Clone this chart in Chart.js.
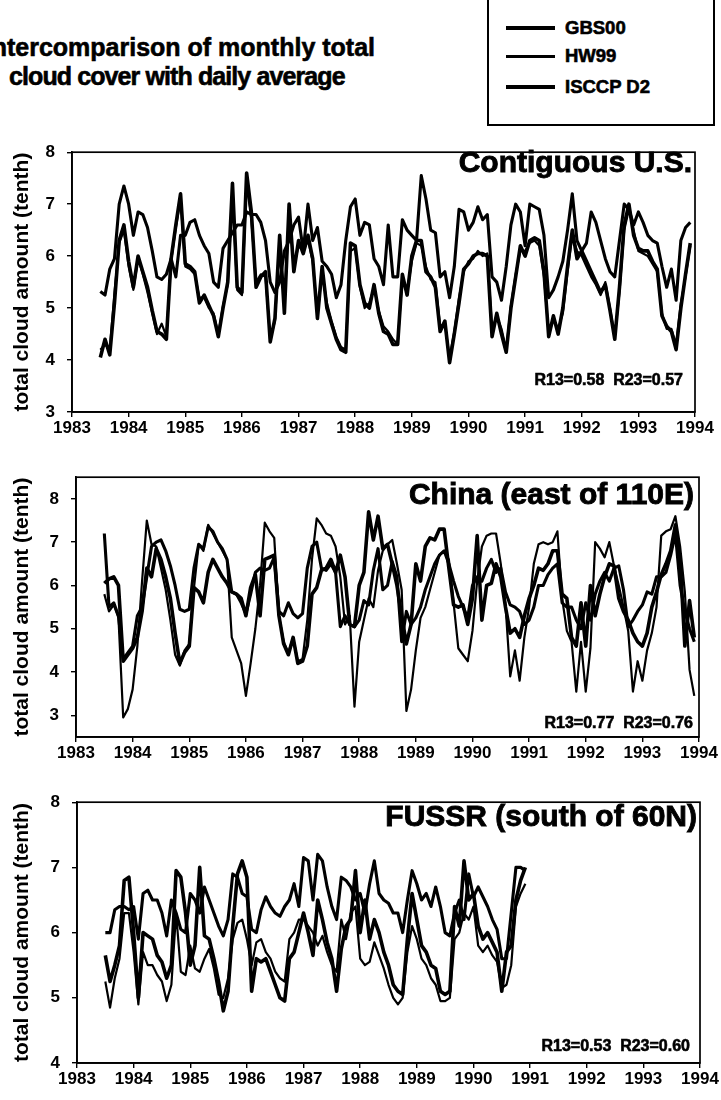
<!DOCTYPE html>
<html>
<head>
<meta charset="utf-8">
<script src="https://cdn.jsdelivr.net/npm/chart.js@4.4.1/dist/chart.umd.min.js"></script>
<style>
  html, body { margin:0; padding:0; background:#fff; }
  body { width:721px; height:1100px; position:relative; overflow:hidden; font-family:"Liberation Sans", Arial, sans-serif; color:#000; }
  .abs { position:absolute; white-space:pre; font-weight:bold; -webkit-text-stroke:0.6px #000; }
  canvas { position:absolute; left:0; }
  .ls { position:absolute; background:#000; left:506px; width:49px; }
</style>
</head>
<body>
<div class="abs" style="right:346px; top:32px; font-size:25px; line-height:30px;">Intercomparison of monthly total</div>
<div class="abs" style="left:9px; top:61px; font-size:25px; line-height:30px; letter-spacing:-0.9px;">cloud cover with daily average</div>

<div style="position:absolute; left:487px; top:-2px; width:228px; height:128px; border:2px solid #000; box-sizing:border-box;"></div>
<div class="ls" style="top:26px; height:4px;"></div>
<div class="ls" style="top:55px; height:2.5px;"></div>
<div class="ls" style="top:85px; height:3.5px;"></div>
<div class="abs" style="left:565px; top:17px; font-size:18.5px; line-height:22px;">GBS00</div>
<div class="abs" style="left:565px; top:45px; font-size:18.5px; line-height:22px;">HW99</div>
<div class="abs" style="left:565px; top:76px; font-size:18.5px; line-height:22px;">ISCCP D2</div>

<canvas id="c1" width="721" height="320" style="top:130px"></canvas>
<canvas id="c2" width="721" height="320" style="top:455px"></canvas>
<canvas id="c3" width="721" height="320" style="top:780px"></canvas>

<div class="abs" style="right:29px; top:147px; font-size:30px; line-height:30px; -webkit-text-stroke:0.9px #000;">Contiguous U.S.</div>
<div class="abs" style="right:27px; top:479px; font-size:30px; line-height:30px; -webkit-text-stroke:0.9px #000;">China (east of 110E)</div>
<div class="abs" style="right:24px; top:801px; font-size:30px; line-height:30px; -webkit-text-stroke:0.9px #000;">FUSSR (south of 60N)</div>

<div class="abs" style="right:38px; top:372px; font-size:16px; line-height:16px;">R13=0.58  R23=0.57</div>
<div class="abs" style="right:28px; top:715px; font-size:16px; line-height:16px;">R13=0.77  R23=0.76</div>
<div class="abs" style="right:31px; top:1038px; font-size:16px; line-height:16px;">R13=0.53  R23=0.60</div>

<script>
// ---------- tick labels ----------
const years = ['1983','1984','1985','1986','1987','1988','1989','1990','1991','1992','1993','1994'];
const yTicksUS = ['3','4','5','6','7','8'];
const yTicksChina = ['3','4','5','6','7','8'];
const yTicksFUSSR = ['4','5','6','7','8'];
const seriesNames = ['GBS00','HW99','ISCCP D2'];
const startYear = 1983.5; // first month: July 1983, monthly values

// ---------- Contiguous U.S. (Jul 1983 - Dec 1993) ----------
const usGBS00 = [4.05,4.4,4.1,5.1,6.3,6.6,
 5.9,5.4,6.0,5.7,5.4,4.95,4.55,4.5,4.4,5.95,6.6,7.2,
 5.85,5.8,5.7,5.1,5.25,5.05,4.85,4.45,5.0,5.5,7.4,5.4,
 5.3,7.6,6.85,5.4,5.6,5.7,4.35,4.8,6.4,4.9,7.0,5.7,
 6.3,6.05,6.4,5.95,4.8,5.8,5.0,4.7,4.4,4.2,4.15,6.25,
 6.2,5.45,5.1,5.0,5.45,4.9,4.55,4.5,4.3,4.3,5.65,5.25,
 6.0,6.3,6.3,5.7,5.6,5.4,4.55,4.75,3.95,4.5,5.1,5.75,
 5.85,6.0,6.05,6.05,6.0,4.45,4.9,4.5,4.15,5.0,5.6,6.2,
 6.0,6.3,6.35,6.3,5.7,4.45,4.85,4.5,5.0,5.8,6.5,5.95,
 6.1,5.9,5.7,5.5,5.3,5.45,4.95,4.4,5.4,6.6,7.0,6.4,
 6.15,6.1,6.1,5.9,5.75,4.85,4.65,4.55,4.2,5.0,5.65,6.25];
const usHW99 = [4.2,4.3,4.2,5.3,6.25,6.5,
 5.8,5.35,5.95,5.65,5.3,4.9,4.5,4.7,4.45,5.9,6.55,7.1,
 5.8,5.75,5.65,5.2,5.2,5.0,4.9,4.5,5.05,5.45,7.2,5.35,
 5.25,7.4,6.7,5.5,5.65,5.6,4.4,4.75,6.3,5.0,6.9,5.8,
 6.2,6.1,6.3,5.9,4.85,5.7,5.1,4.75,4.45,4.25,4.2,6.1,
 6.15,5.4,5.0,5.1,5.4,4.95,4.65,4.55,4.4,4.3,5.6,5.3,
 5.9,6.25,6.2,5.8,5.55,5.5,4.65,4.7,4.05,4.55,5.2,5.7,
 5.9,5.95,6.1,6.0,6.05,4.6,4.85,4.6,4.2,5.05,5.65,6.1,
 6.1,6.25,6.3,6.2,5.6,4.5,4.8,4.6,4.9,5.7,6.4,6.1,
 6.0,5.8,5.6,5.45,5.25,5.5,5.0,4.45,5.3,6.5,6.9,6.5,
 6.1,6.05,6.0,5.85,5.7,4.9,4.6,4.6,4.3,5.1,5.6,6.2];
const usISCCP = [5.32,5.25,5.75,5.95,7.0,7.35,
 7.0,6.4,6.85,6.8,6.55,6.1,5.6,5.55,5.65,5.95,5.6,6.4,
 6.4,6.65,6.7,6.4,6.2,6.05,5.5,5.4,6.15,6.3,6.45,6.6,
 6.6,6.85,6.8,6.8,6.65,6.3,5.5,5.3,5.5,6.1,6.3,6.6,
 6.75,6.1,7.0,6.3,6.55,5.9,5.8,5.65,5.2,5.45,6.3,6.95,
 7.1,6.4,6.65,6.6,5.95,5.8,5.45,6.6,5.6,5.6,6.7,6.5,
 6.4,6.3,7.55,7.1,6.5,6.45,5.6,5.7,5.2,5.8,6.9,6.85,
 6.5,6.65,6.95,6.7,6.8,5.6,5.5,5.15,5.8,6.6,7.0,6.85,
 6.2,7.0,6.95,6.9,6.4,5.2,5.35,5.6,5.9,6.5,7.2,6.3,
 6.1,6.25,6.85,6.65,6.3,5.95,5.7,5.6,6.3,7.0,6.9,6.6,
 6.85,6.65,6.4,6.3,6.25,5.8,5.4,5.75,5.15,6.3,6.55,6.65];

// ---------- China east of 110E (Jul 1983 - Dec 1993) ----------
const chinaGBS00 = [6.05,6.15,6.2,6.0,4.25,4.4,
 4.55,4.8,5.4,6.4,6.2,6.85,6.6,6.2,5.7,4.9,4.2,4.45,
 4.6,5.95,5.85,5.6,6.3,6.6,6.4,6.2,6.05,5.85,5.8,5.7,
 5.3,5.95,6.25,5.3,6.6,6.65,6.7,5.3,4.65,4.4,4.8,4.2,
 4.25,4.6,5.8,5.95,6.35,6.4,6.6,6.3,6.7,6.2,5.1,5.05,
 6.0,6.3,7.7,7.05,7.6,6.85,6.95,6.5,6.0,5.3,4.65,5.1,
 6.5,6.1,6.9,7.1,7.05,7.3,7.3,6.4,5.55,5.5,5.55,5.1,
 5.7,7.15,5.2,6.0,6.05,6.5,6.2,5.5,4.9,5.0,4.8,5.3,
 5.7,6.0,6.4,6.35,6.5,6.8,6.8,5.8,5.7,4.8,4.6,5.6,
 4.6,6.0,5.3,5.8,6.2,6.5,6.45,5.7,5.4,5.2,4.9,4.7,
 4.6,4.9,5.5,5.85,6.25,6.5,6.8,7.4,6.6,4.6,5.65,4.8];
const chinaHW99 = [5.8,5.4,5.55,5.25,2.95,3.15,
 3.6,4.6,6.1,7.5,6.95,6.9,6.4,5.9,5.2,4.4,4.15,4.5,
 4.65,5.95,6.95,6.8,7.4,7.2,7.0,6.8,6.6,4.8,4.5,4.2,
 3.45,4.2,5.0,6.0,7.45,7.25,7.1,5.3,4.7,4.45,4.8,4.25,
 4.3,5.2,6.6,7.55,7.4,7.2,7.15,6.9,6.2,5.1,5.3,3.2,
 4.7,5.2,5.7,5.5,6.35,6.8,6.95,7.05,6.5,5.9,3.1,3.6,
 4.5,5.25,5.5,5.9,6.3,6.7,6.8,6.6,5.6,4.55,4.4,4.25,
 4.95,6.1,6.9,7.15,7.2,7.2,6.5,5.55,3.9,4.5,3.8,4.8,
 5.5,6.5,6.95,7.0,6.95,7.0,7.25,5.7,4.95,4.7,3.55,4.7,
 3.55,4.55,7.0,6.85,6.65,7.0,6.45,6.0,5.5,4.95,3.55,4.25,
 3.8,4.5,4.9,5.5,7.15,7.25,7.3,7.6,6.9,5.85,4.05,3.45];
const chinaISCCP = [7.2,5.5,5.6,5.3,4.3,4.45,
 4.6,5.3,5.5,6.2,6.9,7.0,7.05,6.8,6.45,6.0,5.45,5.4,
 5.45,6.4,6.95,6.85,7.35,7.25,7.0,6.85,6.6,5.85,5.8,5.6,
 5.35,5.8,6.3,6.4,6.35,6.4,6.65,5.4,5.3,5.6,5.35,5.25,
 5.35,6.4,6.9,7.0,6.4,6.35,6.5,6.3,5.05,5.3,5.1,5.05,
 5.2,5.65,5.55,6.35,6.85,5.9,6.0,6.55,6.2,4.7,5.4,5.1,
 5.25,5.5,5.9,6.2,6.5,6.7,6.8,6.5,6.1,5.75,5.5,5.25,
 6.0,6.2,6.1,6.4,6.6,6.3,6.4,5.85,5.55,5.5,5.4,5.1,
 5.2,5.5,6.0,6.0,6.25,6.4,6.5,5.6,5.5,5.5,5.2,5.0,
 5.6,5.2,5.8,6.1,6.3,6.1,6.4,6.45,5.9,5.05,5.2,5.4,
 5.55,5.85,5.8,6.2,6.2,6.3,6.7,7.2,6.0,5.4,5.0,4.7];

// ---------- FUSSR south of 60N (Jul 1983 - Dec 1990) ----------
const fussrGBS00 = [5.65,5.25,5.5,5.8,6.8,6.85,
 6.0,5.0,6.0,5.95,5.9,5.65,5.55,5.3,5.5,6.95,6.85,6.3,
 5.5,5.8,7.0,5.95,5.9,5.6,5.25,4.8,5.1,6.1,6.9,7.1,
 6.85,5.1,5.6,5.55,5.6,5.4,5.2,5.0,4.95,5.6,5.7,6.0,
 6.3,6.0,5.65,6.5,6.2,5.85,5.6,5.1,5.75,6.1,6.2,6.95,
 6.0,6.5,5.9,6.2,6.0,5.7,5.5,5.2,5.1,5.05,5.9,6.6,
 6.2,5.8,5.7,5.5,5.45,5.1,5.05,5.1,6.4,6.1,7.1,6.5,
 6.6,6.1,5.9,6.0,5.85,5.7,5.1,5.7,5.8,6.5,6.8,7.0];
const fussrHW99 = [5.25,4.85,5.3,5.6,6.3,6.3,
 5.7,4.9,5.7,5.5,5.5,5.35,5.25,4.95,5.2,6.3,5.4,5.35,
 5.8,5.45,5.4,5.6,5.75,5.45,5.05,5.0,5.3,5.9,6.15,6.2,
 5.9,5.5,5.85,5.9,5.7,5.6,5.4,5.3,5.25,5.9,6.0,6.2,
 6.2,6.1,6.0,5.8,5.95,5.7,5.5,5.4,6.2,5.9,6.3,6.4,
 5.6,5.5,5.55,5.85,5.65,5.45,5.2,5.0,4.9,5.0,5.7,6.1,
 5.9,5.6,5.5,5.3,5.2,4.95,4.95,5.0,5.9,6.0,6.3,6.2,
 6.4,5.8,5.7,5.8,5.65,5.55,5.15,5.2,5.5,6.4,6.6,6.75];
const fussrISCCP = [6.0,6.0,6.35,6.4,6.4,6.35,
 6.4,5.9,6.6,6.65,6.5,6.5,6.3,5.95,6.5,6.3,6.05,6.0,
 6.6,6.5,6.3,6.7,6.5,6.3,6.1,5.95,6.2,6.9,6.85,6.6,
 6.55,6.05,6.0,6.35,6.55,6.4,6.3,6.25,6.4,6.5,6.75,6.4,
 7.15,7.1,6.5,7.2,7.1,6.7,6.4,6.2,6.85,6.8,6.7,6.5,
 6.6,6.3,6.75,7.1,6.6,6.5,6.45,6.3,6.3,6.0,6.5,6.95,
 6.75,6.5,6.6,6.4,6.7,6.4,6.0,5.95,6.3,6.5,6.2,6.9,
 6.55,6.7,6.55,6.4,6.2,6.05,5.6,5.6,6.3,7.0,7.0,6.95];

const FONT = '"Liberation Sans", Arial, sans-serif';
const monthly = vals => vals.map((v, i) => ({ x: startYear + i / 12, y: v }));

const framePlugin = {
  id: 'frame',
  afterDatasetsDraw(chart) {
    const { ctx, chartArea: a } = chart;
    ctx.save();
    ctx.strokeStyle = '#000';
    ctx.lineWidth = 1.7;
    ctx.strokeRect(a.left, a.top, a.right - a.left, a.bottom - a.top);
    ctx.restore();
  }
};

function makePanel(id, series, cfg) {
  const widths = [3.6, 2.2, 3.1];
  new Chart(document.getElementById(id), {
    type: 'line',
    data: {
      datasets: series.map((vals, k) => ({
        label: seriesNames[k],
        data: monthly(vals),
        borderColor: '#000',
        backgroundColor: '#000',
        borderWidth: widths[k],
        pointRadius: 0,
        tension: 0,
        fill: false,
        borderJoinStyle: 'round'
      }))
    },
    options: {
      responsive: false,
      animation: false,
      devicePixelRatio: 1,
      layout: { padding: { top: cfg.top, right: cfg.right, left: 0, bottom: 0 } },
      plugins: { legend: { display: false }, tooltip: { enabled: false } },
      scales: {
        x: {
          type: 'linear', min: 1983, max: 1994,
          afterFit(s) { s.height = cfg.xh; },
          afterBuildTicks(s) { s.ticks = years.map(y => ({ value: Number(y) })); },
          ticks: { callback: (v, i) => years[i], autoSkip: false, maxRotation: 0,
                   font: { family: FONT, size: 17, weight: 'bold' }, color: '#000', padding: 1 },
          grid: { drawOnChartArea: false, drawTicks: true, tickLength: 5, color: '#000', lineWidth: 1.4 },
          border: { display: true, color: '#000', width: 1.7 }
        },
        y: {
          min: cfg.ymin, max: cfg.ymax,
          afterFit(s) { s.width = cfg.yw; },
          afterBuildTicks(s) { s.ticks = cfg.yt.map(t => ({ value: Number(t) })); },
          ticks: { callback: (v, i) => cfg.yt[i], autoSkip: false,
                   font: { family: FONT, size: 17, weight: 'bold' }, color: '#000', padding: 12 },
          grid: { drawOnChartArea: false, drawTicks: true, tickLength: 5, color: '#000', lineWidth: 1.4 },
          border: { display: true, color: '#000', width: 1.7 },
          title: { display: true, text: 'total cloud amount (tenth)', color: '#000',
                   font: { family: FONT, size: 21, weight: 'bold' }, padding: { top: 9.4, bottom: 0 } }
        }
      }
    },
    plugins: [framePlugin]
  });
}

makePanel('c1', [usGBS00, usHW99, usISCCP],
  { top: 19, right: 26, xh: 38, yw: 72, ymin: 3, ymax: 8, yt: yTicksUS });
makePanel('c2', [chinaGBS00, chinaHW99, chinaISCCP],
  { top: 20, right: 22, xh: 38, yw: 76, ymin: 2.5, ymax: 8.5, yt: yTicksChina });
makePanel('c3', [fussrGBS00, fussrHW99, fussrISCCP],
  { top: 19, right: 21, xh: 37, yw: 77, ymin: 4, ymax: 8, yt: yTicksFUSSR });
</script>
</body>
</html>
